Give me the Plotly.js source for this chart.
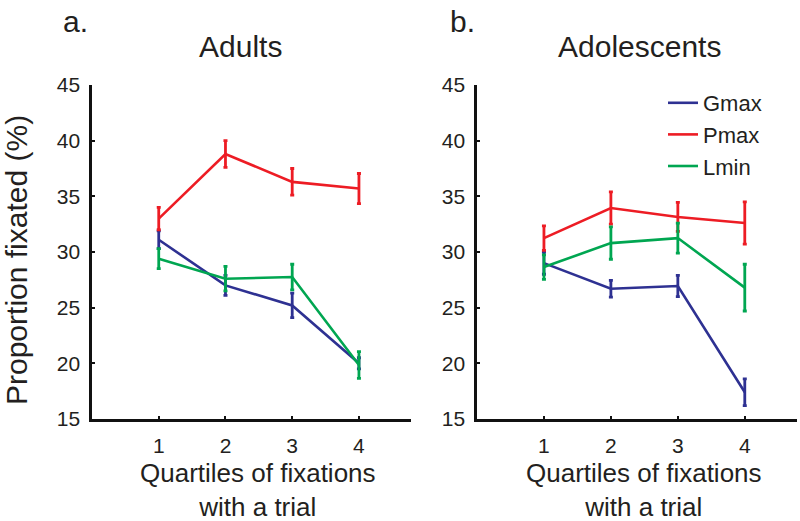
<!DOCTYPE html>
<html>
<head>
<meta charset="utf-8">
<script src="https://cdn.plot.ly/plotly-3.0.1.min.js"></script>
<style>html,body{margin:0;padding:0;background:#fff;}#chart{width:800px;height:521px;}</style>
</head>
<body>
<div id="chart"></div>
<script>
// ---- data ----
const quartiles = [1, 2, 3, 4];
const seriesNames = ["Gmax", "Pmax", "Lmin"];

const adultsGmax = [31.1, 27.0, 25.2, 20.0];
const adultsGmaxErr = [0.8, 0.9, 1.1, 0.5];
const adultsPmax = [33.0, 38.8, 36.3, 35.7];
const adultsPmaxErr = [1.0, 1.2, 1.2, 1.35];
const adultsLmin = [29.4, 27.6, 27.75, 19.85];
const adultsLminErr = [0.9, 1.1, 1.15, 1.2];

const adolGmax = [29.0, 26.7, 26.95, 17.4];
const adolGmaxErr = [1.0, 0.75, 0.95, 1.2];
const adolPmax = [31.25, 33.95, 33.15, 32.6];
const adolPmaxErr = [1.1, 1.45, 1.3, 1.9];
const adolLmin = [28.65, 30.8, 31.25, 26.8];
const adolLminErr = [1.1, 1.45, 1.35, 2.1];

const yTicks = [15, 20, 25, 30, 35, 40, 45];

// ---- styling ----
const colors = {Gmax: "#2e3192", Pmax: "#ed1c24", Lmin: "#00a651"};
const FONT = "Liberation Sans, Arial, Helvetica, sans-serif";
const TXT = "#231f20";

function tr(name, y, err, xa, ya, showlegend) {
  return {
    type: "scatter", mode: "lines", name: name,
    x: quartiles, y: y,
    xaxis: xa, yaxis: ya, showlegend: showlegend,
    line: {color: colors[name], width: 2.6},
    error_y: {type: "data", array: err, visible: true, color: colors[name], thickness: 2.8, width: 2},
    hoverinfo: "skip"
  };
}

const data = [
  tr("Gmax", adultsGmax, adultsGmaxErr, "x", "y", false),
  tr("Pmax", adultsPmax, adultsPmaxErr, "x", "y", false),
  tr("Lmin", adultsLmin, adultsLminErr, "x", "y", false),
  tr("Gmax", adolGmax, adolGmaxErr, "x2", "y2", true),
  tr("Pmax", adolPmax, adolPmaxErr, "x2", "y2", true),
  tr("Lmin", adolLmin, adolLminErr, "x2", "y2", true)
];

const W = 800, H = 521;
const px = v => v / W;
const py = v => (H - v) / H;

function xaxisDef(domain) {
  return {
    domain: domain, range: [0, 4.78],
    tickvals: quartiles, ticktext: quartiles.map(String),
    ticks: "inside", ticklen: 3, tickwidth: 2, tickcolor: "#111",
    showline: true, linecolor: "#111", linewidth: 2.6,
    showgrid: false, zeroline: false, fixedrange: true,
    tickfont: {family: FONT, size: 21, color: TXT},
    ticklabelstandoff: 6
  };
}
function yaxisDef(anchor) {
  return {
    domain: [py(419), py(85)], range: [15, 45], anchor: anchor,
    tickvals: yTicks,
    ticks: "inside", ticklen: 3, tickwidth: 2, tickcolor: "#111",
    showline: true, linecolor: "#111", linewidth: 2.6,
    showgrid: false, zeroline: false, fixedrange: true,
    tickfont: {family: FONT, size: 21, color: TXT},
    ticklabelstandoff: 5
  };
}

const ann = (text, x, y, size, extra) => Object.assign({
  text: text, xref: "paper", yref: "paper", x: px(x), y: py(y),
  xanchor: "center", yanchor: "middle", showarrow: false,
  font: {family: FONT, size: size, color: TXT}
}, extra || {});

const layout = {
  width: W, height: H,
  margin: {l: 0, r: 0, t: 0, b: 0},
  paper_bgcolor: "#fff", plot_bgcolor: "#fff",
  showlegend: true,
  xaxis: xaxisDef([px(92), px(411)]),
  yaxis: yaxisDef("x"),
  xaxis2: Object.assign(xaxisDef([px(477), px(797)]), {anchor: "y2"}),
  yaxis2: yaxisDef("x2"),
  legend: {
    x: px(663), y: py(82), xanchor: "left", yanchor: "top",
    bgcolor: "rgba(0,0,0,0)", borderwidth: 0,
    font: {family: FONT, size: 22, color: TXT},
    tracegroupgap: 0
  },
  annotations: [
    ann("a.", 75, 21, 30),
    ann("b.", 462, 21, 30),
    ann("Adults", 240, 46, 30),
    ann("Adolescents", 639, 46, 30),
    ann("Quartiles of fixations<br>with a trial", 258, 490, 26),
    ann("Quartiles of fixations<br>with a trial", 644, 490, 26),
    ann("Proportion fixated (%)", 16, 260, 30, {textangle: -90})
  ]
};

Plotly.newPlot("chart", data, layout, {displayModeBar: false, staticPlot: true});
</script>
</body>
</html>
